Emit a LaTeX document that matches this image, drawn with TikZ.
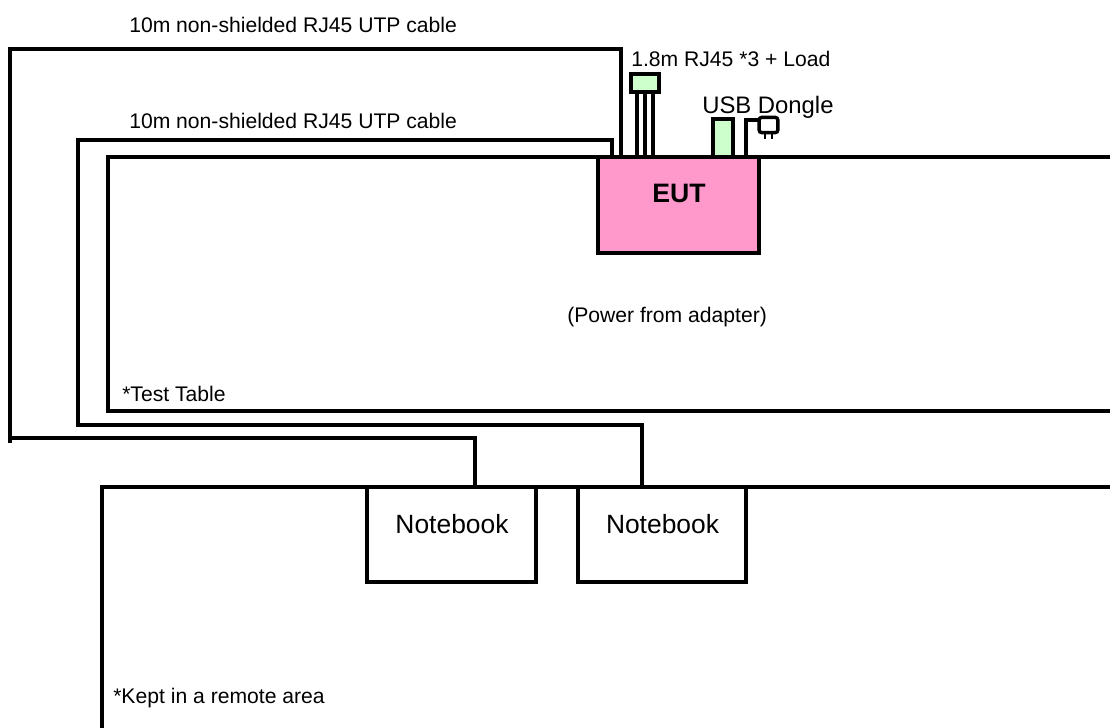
\documentclass[tikz,border=0pt]{standalone}
\usepackage{fontspec}
\setmainfont{Liberation Sans}
\definecolor{eutpink}{HTML}{FF99CC}
\definecolor{plugreen}{HTML}{CCFFCC}
\tikzset{
    wire/.style={line width=2.35pt,black,line cap=butt,line join=miter},
    thinwire/.style={line width=2.2pt,black},
    unitbox/.style={draw,line width=2.35pt,inner sep=0pt,outer sep=0pt},
    smalltext/.style={inner sep=0pt,anchor=base west,font=\fontsize{15.85}{18}\selectfont},
    bigtext/.style={inner sep=0pt,anchor=base,font=\fontsize{19.8}{22}\selectfont},
}
\begin{document}
\begin{tikzpicture}[x=0.75pt,y=-0.75pt]
        \useasboundingbox (0,0) rectangle (1110,728);
        % table and remote area
        \draw[wire] (1110,157) -- (108,157) -- (108,411) -- (1110,411);
        \draw[wire] (1110,487) -- (102,487) -- (102,728);
        % units
        \node[unitbox,fill=eutpink,minimum width=120.75pt,minimum height=72pt] (eut) at (678.5,205) {};
        \node[unitbox,minimum width=126.75pt,minimum height=71.25pt] (nbleft) at (451.5,534.5) {};
        \node[unitbox,minimum width=126pt,minimum height=71.25pt] (nbright) at (662,534.5) {};
        \node[unitbox,fill=plugreen,minimum width=21pt,minimum height=13.5pt] (rjbox) at (645,83) {};
        \node[unitbox,fill=plugreen,minimum width=15pt,minimum height=28.5pt] (dongle) at (723,138) {};
        \node[draw,line width=2.6pt,rounded corners=2pt,inner sep=0pt,outer sep=0pt,minimum width=14pt,minimum height=11.5pt] (plug) at (768.5,125) {};
        % free ends of the cables
        \coordinate (longend) at (10,443);
        \coordinate (shortout) at (612,157);
        \coordinate (longout) at (621,157);
        \coordinate (usbout) at (746,157);
        \coordinate (nbleftin) at (475,487);
        \coordinate (nbrightin) at (642,487);
        % cables
        \draw[wire] (longout) -- (621,49) -- (10,49) -- (longend);
        \draw[wire] (10,438) -- (475,438) -- (nbleftin);
        \draw[wire] (shortout) -- (612,140) -- (78,140) -- (78,425) -- (642,425) -- (nbrightin);
        \foreach \px in {637,645,653} {
            \draw[wire] (\px,157) -- (rjbox.south -| \px,0);
        }
        \draw[wire] (usbout) -- (746,120) -- (plug.west |- 0,120);
        \draw[thinwire] (765,132) -- (765,139);
        \draw[thinwire] (772,132) -- (772,139);
        % labels
        \node[smalltext] (longlabel) at (129,32) {10m non-shielded RJ45 UTP cable};
        \node[smalltext] (shortlabel) at (129,128) {10m non-shielded RJ45 UTP cable};
        \node[smalltext] (rjlabel) at (631,66.5) {1.8m RJ45 *3 + Load};
        \node[smalltext,font=\fontsize{17.9}{20}\selectfont] (usblabel) at (702,113) {USB Dongle};
        \node[bigtext,font=\fontsize{20}{22}\selectfont\bfseries] (eutlabel) at (679,202) {EUT};
        \node[smalltext] (powerlabel) at (567,322) {(Power from adapter)};
        \node[smalltext] (tablelabel) at (122,401) {*Test Table};
        \node[smalltext] (remotelabel) at (113,703) {*Kept in a remote area};
        \node[bigtext] (nbleftlabel) at (452,533) {Notebook};
        \node[bigtext] (nbrightlabel) at (662.5,533) {Notebook};
\end{tikzpicture}
\end{document}
